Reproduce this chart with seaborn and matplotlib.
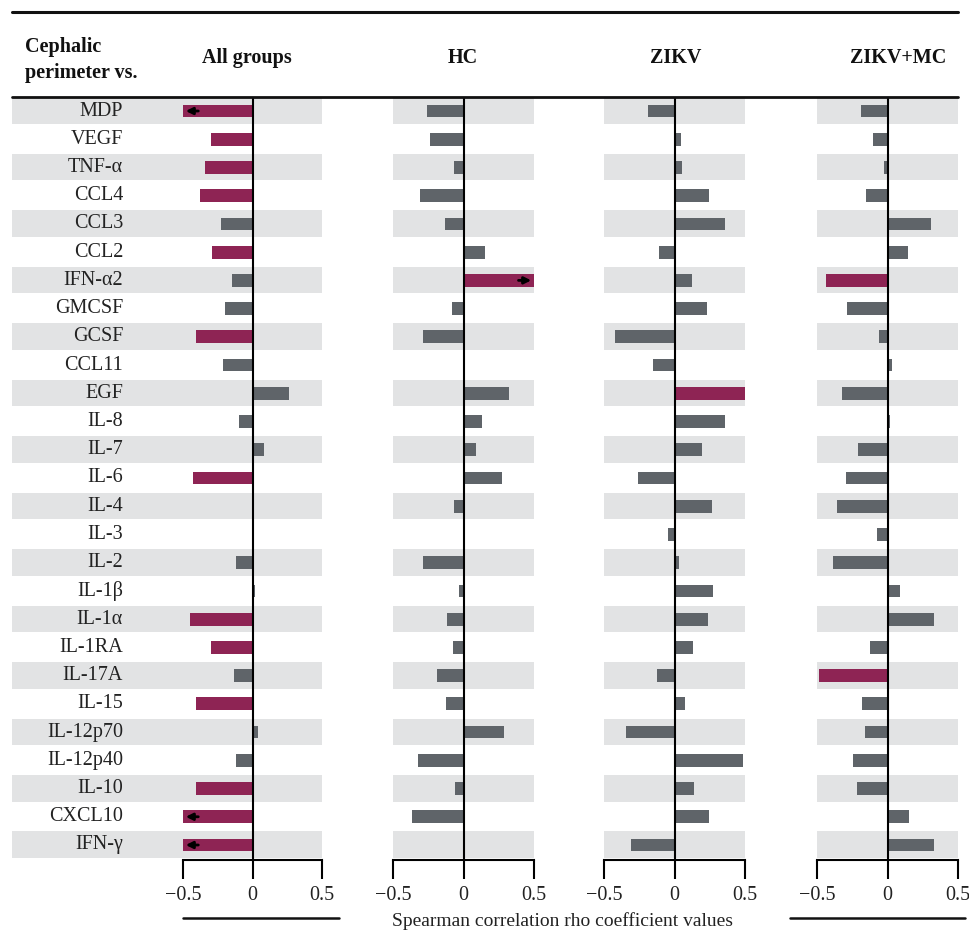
import numpy as np
import pandas as pd
import matplotlib
matplotlib.use("Agg")
import matplotlib.pyplot as plt
from matplotlib.lines import Line2D
import seaborn as sns

# ---- data -------------------------------------------------------------
cytokines = ["MDP", "VEGF", "TNF-α", "CCL4", "CCL3", "CCL2", "IFN-α2", "GMCSF",
             "GCSF", "CCL11", "EGF", "IL-8", "IL-7", "IL-6", "IL-4", "IL-3",
             "IL-2", "IL-1β", "IL-1α", "IL-1RA", "IL-17A", "IL-15", "IL-12p70",
             "IL-12p40", "IL-10", "CXCL10", "IFN-γ"]

groups = ["All groups", "HC", "ZIKV", "ZIKV+MC"]

rho_all = [-0.50, -0.30, -0.34, -0.38, -0.23, -0.29, -0.145, -0.195, -0.41,
           -0.21, 0.26, -0.10, 0.08, -0.43, 0.0, 0.0, -0.12, 0.015, -0.45,
           -0.30, -0.13, -0.41, 0.04, -0.12, -0.41, -0.50, -0.50]
rho_hc = [-0.257, -0.238, -0.064, -0.305, -0.129, 0.152, 0.50, -0.083, -0.286,
          0.0, 0.326, 0.131, 0.09, 0.274, -0.069, 0.0, -0.29, -0.029, -0.117,
          -0.074, -0.19, -0.124, 0.286, -0.326, -0.062, -0.362, 0.0]
rho_zikv = [-0.19, 0.048, 0.052, 0.248, 0.357, -0.107, 0.124, 0.231, -0.424,
            -0.155, 0.50, 0.355, 0.195, -0.257, 0.264, -0.043, 0.031, 0.271,
            0.24, 0.133, -0.124, 0.071, -0.345, 0.486, 0.14, 0.245, -0.305]
rho_zikv_mc = [-0.185, -0.10, -0.023, -0.15, 0.305, 0.143, -0.434, -0.284,
               -0.063, 0.035, -0.326, 0.02, -0.209, -0.291, -0.361, -0.077,
               -0.385, 0.087, 0.329, -0.124, -0.484, -0.181, -0.162, -0.246,
               -0.218, 0.153, 0.333]

# significant correlations (highlighted bars)
sig_all = ["MDP", "VEGF", "TNF-α", "CCL4", "CCL2", "GCSF", "IL-6", "IL-1α",
           "IL-1RA", "IL-15", "IL-10", "CXCL10", "IFN-γ"]
sig_hc = ["IFN-α2"]
sig_zikv = ["EGF"]
sig_zikv_mc = ["IFN-α2", "IL-17A"]

# values running beyond the axis range (marked with an arrow)
beyond_all = ["MDP", "CXCL10", "IFN-γ"]
beyond_hc = ["IFN-α2"]
beyond_zikv = []
beyond_zikv_mc = []

tick_values = [-0.5, 0, 0.5]
tick_labels = ["\u22120.5", "0", "0.5"]

# ---- style ------------------------------------------------------------
sns.set_style("white")
plt.rcParams["font.family"] = ["Liberation Serif", "DejaVu Serif"]

PINK = "#8E2454"
GREY = "#5F6469"
STRIPE = "#E2E3E4"

W, H = 969, 935
fig = plt.figure(figsize=(W / 100, H / 100), dpi=100)

panel_px = [(12, 322), (393, 534), (604, 745), (817, 958)]
top_px, bot_px = 97, 860
n = len(cytokines)
row_top, row_pitch = 111, (845 - 111) / (n - 1)
ylim = ((bot_px - row_top) / row_pitch, (top_px - row_top) / row_pitch)

series = [rho_all, rho_hc, rho_zikv, rho_zikv_mc]
sigs = [sig_all, sig_hc, sig_zikv, sig_zikv_mc]
beyonds = [beyond_all, beyond_hc, beyond_zikv, beyond_zikv_mc]

axes = []
for k, (l, r) in enumerate(panel_px):
    ax = fig.add_axes([l / W, 1 - bot_px / H, (r - l) / W, (bot_px - top_px) / H])
    axes.append(ax)
    df = pd.DataFrame({
        "cytokine": cytokines,
        "rho": series[k],
        "sig": ["yes" if c in sigs[k] else "no" for c in cytokines],
    })
    for i in range(0, n, 2):
        ax.axhspan(i - 0.48, i + 0.46, color=STRIPE, lw=0, zorder=0)
    sns.barplot(data=df, x="rho", y="cytokine", hue="sig", order=cytokines,
                hue_order=["no", "yes"], palette={"no": GREY, "yes": PINK},
                dodge=False, width=0.45, saturation=1, linewidth=0,
                orient="h", legend=False, ax=ax, zorder=2)
    if k == 0:
        x_left = -0.5 - (183 - 12) / 139
        ax.set_xlim(x_left, 0.5)
        ax.spines["bottom"].set_bounds(-0.5, 0.5)
        for i, c in enumerate(cytokines):
            ax.text(-0.5 - (183 - 123) / 139, i, c, ha="right", va="center",
                    fontsize=14.5, color="#222222")
    else:
        ax.set_xlim(-0.5, 0.5)
    ax.set_ylim(*ylim)
    ax.axvline(0, color="black", lw=1.5, zorder=4)
    for c in beyonds[k]:
        i = cytokines.index(c)
        v = df.loc[i, "rho"]
        sgn = np.sign(v)
        ax.annotate("", xy=(v - sgn * 0.02, i), xytext=(v - sgn * 0.11, i),
                    arrowprops=dict(arrowstyle="-|>", color="black", lw=2.0,
                                    mutation_scale=10, shrinkA=0, shrinkB=0),
                    zorder=5)
    ax.set_xticks(tick_values)
    ax.set_xticklabels(tick_labels, fontsize=14.5)
    ax.set_yticks([])
    ax.set_xlabel("")
    ax.set_ylabel("")
    for s in ["left", "right", "top"]:
        ax.spines[s].set_visible(False)
    ax.spines["bottom"].set_color("black")
    ax.spines["bottom"].set_linewidth(1.5)
    ax.tick_params(axis="x", bottom=True, direction="out", length=14,
                   width=1.5, pad=5, color="black", labelcolor="#222222")
    ax.patch.set_alpha(0)

# ---- header and rules -------------------------------------------------
fig.add_artist(Line2D([12 / W, 958 / W], [1 - 12 / H, 1 - 12 / H],
                      color="#111111", lw=2.2))
fig.add_artist(Line2D([12 / W, 958 / W], [1 - 97 / H, 1 - 97 / H],
                      color="#111111", lw=2.0))

fig.text(25 / W, 1 - 60 / H, "Cephalic\nperimeter vs.", ha="left", va="center",
         fontsize=14.5, fontweight="bold", linespacing=1.45, color="#111111")
header_x = [247, 463, 676, 898]
for g, xc in zip(groups, header_x):
    fig.text(xc / W, 1 - 58 / H, g, ha="center", va="center", fontsize=14.5,
             fontweight="bold", color="#111111")

# axis title with flanking rules
fig.text(563 / W, 1 - 921 / H, "Spearman correlation rho coefficient values",
         ha="center", va="center", fontsize=14, color="#222222")
fig.add_artist(Line2D([183 / W, 339 / W], [1 - 918 / H, 1 - 918 / H],
                      color="#111111", lw=1.8))
fig.add_artist(Line2D([790 / W, 965 / W], [1 - 918 / H, 1 - 918 / H],
                      color="#111111", lw=1.8))

fig.savefig("out.png", dpi=100)
